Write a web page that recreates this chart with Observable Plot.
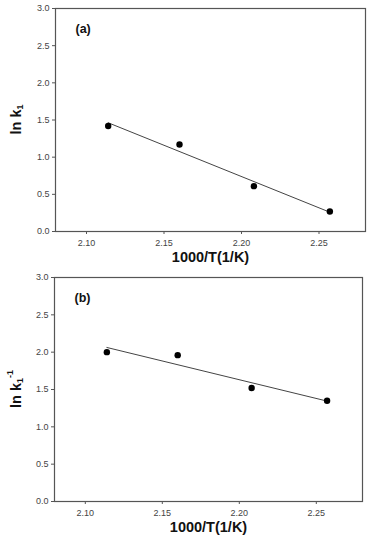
<!DOCTYPE html>
<html>
<head>
<meta charset="utf-8">
<script src="https://cdn.jsdelivr.net/npm/d3@7"></script>
<script src="https://cdn.jsdelivr.net/npm/@observablehq/plot@0.6"></script>
<style>
  html, body { margin: 0; padding: 0; background: #fff; }
  #chart { width: 368px; }
  #chart svg { display: block; }
</style>
</head>
<body>
<div id="chart"></div>
<script>
const invT = [2.114, 2.160, 2.208, 2.257];
const lnk1 = [1.42, 1.17, 0.61, 0.27];
const lnk1inv = [2.00, 1.96, 1.52, 1.35];
const xTicks = [2.10, 2.15, 2.20, 2.25];
const yTicks = [0, 0.5, 1.0, 1.5, 2.0, 2.5, 3.0];
const panelLabels = ["(a)", "(b)"];
const xTitle = "1000/T(1/K)";

const FONT = "Arial, 'Liberation Sans', sans-serif";
const AX = "#555";

function panel(values, tag, ylabelSup, opts) {
  const data = invT.map((x, i) => ({x, y: values[i]}));
  const svg = Plot.plot({
    width: 368,
    height: opts.height,
    marginLeft: opts.ml,
    marginRight: opts.mr,
    marginTop: opts.mt,
    marginBottom: opts.mb,
    style: {fontFamily: FONT, background: "#fff"},
    x: {domain: [2.08, 2.28]},
    y: {domain: [0, 3]},
    marks: [
      Plot.frame({stroke: AX, strokeWidth: 1.2}),
      Plot.axisX({ticks: xTicks, tickFormat: d3.format(".2f"), tickSize: 3, tickPadding: 5,
                  label: null, fontSize: 9, stroke: AX, color: "#444"}),
      Plot.axisY({ticks: yTicks, tickFormat: d3.format(".1f"), tickSize: 3, tickPadding: 3,
                  label: null, fontSize: 9, stroke: AX, color: "#444"}),
      Plot.linearRegressionY(data, {x: "x", y: "y", ci: 0, stroke: "#444", strokeWidth: 1}),
      Plot.dot(data, {x: "x", y: "y", r: 3.2, fill: "#000", stroke: "none"}),
      Plot.text([tag], {frameAnchor: "top-left", dx: 20, dy: 20, fontSize: 12.5,
                        fontWeight: "bold", fill: "#111", lineAnchor: "middle", textAnchor: "start"}),
      Plot.text([xTitle], {frameAnchor: "bottom", dy: 26, fontSize: 14.5, fontWeight: "bold",
                           fill: "#111", lineAnchor: "middle"})
    ]
  });
  const cy = opts.mt + (opts.height - opts.mt - opts.mb) / 2;
  const t = d3.select(svg).append("text")
    .attr("transform", `translate(17,${cy}) rotate(-90)`)
    .attr("text-anchor", "middle")
    .attr("dominant-baseline", "middle")
    .attr("font-family", FONT)
    .attr("font-weight", "bold")
    .attr("font-size", 14.5)
    .attr("fill", "#111");
  t.append("tspan").text("ln k");
  t.append("tspan").attr("font-size", 9).attr("dy", 4).text("1");
  if (ylabelSup) {
    t.append("tspan").attr("font-size", 9).attr("dy", -10).text(ylabelSup);
  }
  return svg;
}

const root = document.getElementById("chart");
root.appendChild(panel(lnk1, panelLabels[0], null, {height: 270, ml: 55, mr: 3, mt: 8, mb: 39}));
root.appendChild(panel(lnk1inv, panelLabels[1], "-1", {height: 272, ml: 54, mr: 6, mt: 7, mb: 41}));
</script>
</body>
</html>
